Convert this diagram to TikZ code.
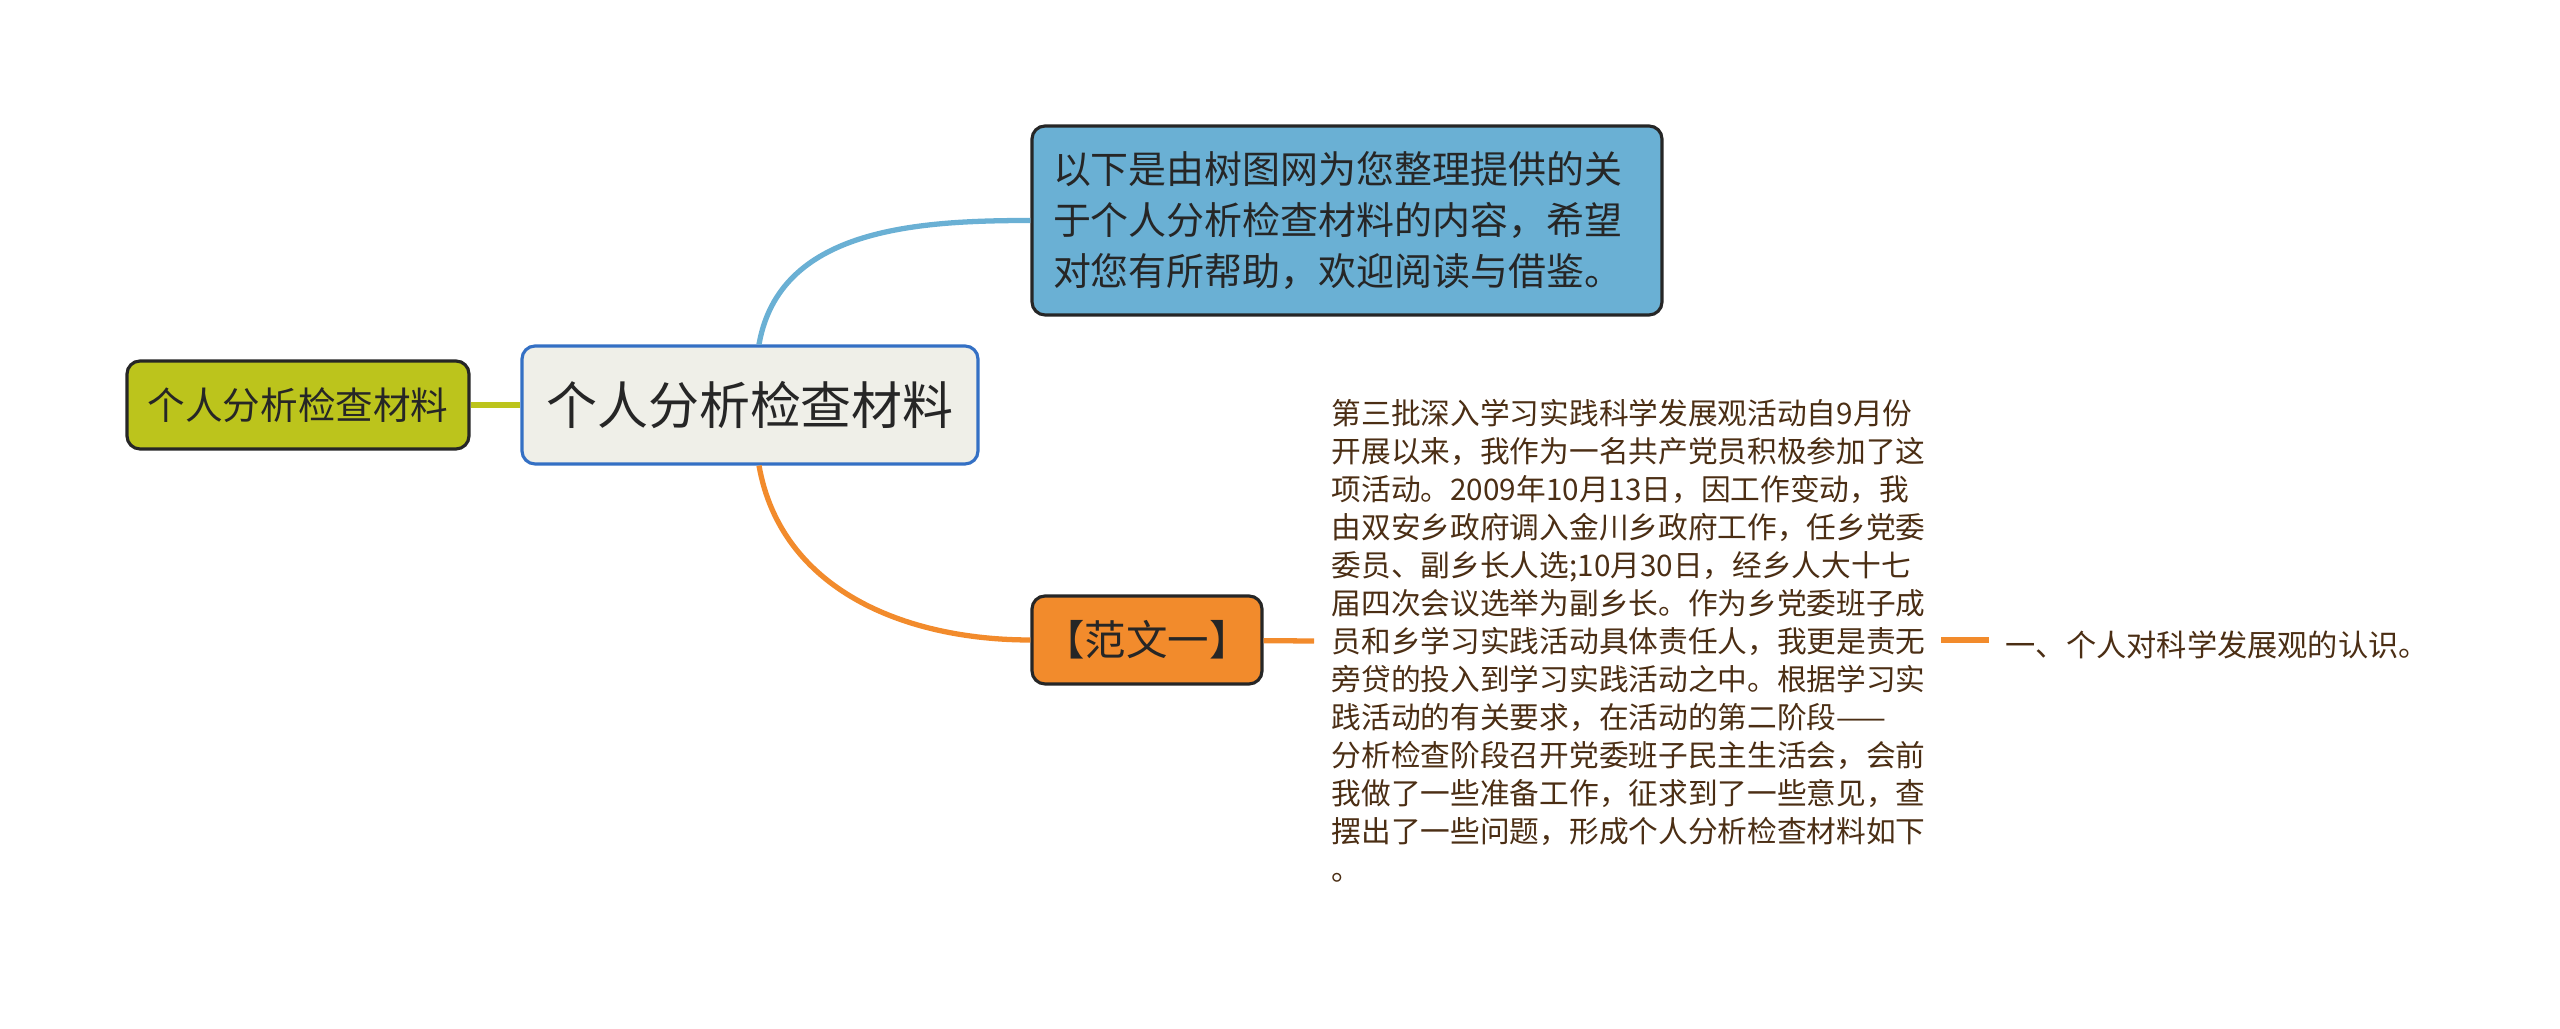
\documentclass[tikz,border=0pt]{standalone}
\usepackage{fontspec}
\newfontfamily\cjk{Noto Sans CJK SC}
\usepackage{tikz}
\usetikzlibrary{positioning}

\definecolor{rootfill}{HTML}{EFEFE8}
\definecolor{rootline}{HTML}{3470C4}
\definecolor{olive}{HTML}{BCC41C}
\definecolor{skyblue}{HTML}{6AB0D4}
\definecolor{tangerine}{HTML}{F28B2C}
\definecolor{inkbrown}{HTML}{4B2E14}
\definecolor{inkgray}{HTML}{262626}

\begin{document}
\begin{tikzpicture}
		[box/.style={rectangle,rounded corners=1.3mm,draw=black!85,line width=0.9pt,inner sep=0mm,text=inkgray,align=left},
		plain/.style={inner sep=0mm,text=inkbrown,align=left},
		link/.style={line width=1.5pt}]

	\useasboundingbox (0,0) rectangle (25.60,-10.29);

	% central topic
	\node[box,fill=rootfill,draw=rootline,minimum width=4.56cm,minimum height=1.18cm,
		font=\cjk\fontsize{14.5}{18}\selectfont] (root) at (7.50,-4.05) {个人分析检查材料};

	\node[box,fill=olive,minimum width=3.42cm,minimum height=0.88cm,
		font=\cjk\fontsize{10.7}{14}\selectfont] (left) at (2.98,-4.05) {个人分析检查材料};
	\draw[link,olive,line width=1.9pt] (left) -- (root);

	% upper branch
	\node[box,fill=skyblue,minimum height=1.89cm,inner xsep=0.21cm,text width=5.88cm,
		font=\cjk\fontsize{10.8}{14.5}\selectfont] (intro) at (13.47,-2.205)
		{以下是由树图网为您整理提供的关\\于个人分析检查材料的内容，希望\\对您有所帮助，欢迎阅读与借鉴。};
	\draw[link,skyblue] ([xshift=0.09cm]root.north) to[out=80,in=180] (intro.west);

	% lower branch
	\node[box,fill=tangerine,minimum width=2.30cm,minimum height=0.88cm,
		font=\cjk\fontsize{11.8}{14}\selectfont] (fanwen) at (11.47,-6.40) {【范文一】};
	\draw[link,tangerine] ([xshift=0.09cm]root.south) to[out=-80,in=180] (fanwen.west);

	\node[plain,anchor=west,inner xsep=0.17cm,text width=5.92cm,
		font=\cjk\fontsize{8.45}{10.8}\selectfont] (body) at (13.14,-6.41)
		{第三批深入学习实践科学发展观活动自9月份\\
		开展以来，我作为一名共产党员积极参加了这\\
		项活动。2009年10月13日，因工作变动，我\\
		由双安乡政府调入金川乡政府工作，任乡党委\\
		委员、副乡长人选;10月30日，经乡人大十七\\
		届四次会议选举为副乡长。作为乡党委班子成\\
		员和乡学习实践活动具体责任人，我更是责无\\
		旁贷的投入到学习实践活动之中。根据学习实\\
		践活动的有关要求，在活动的第二阶段——\\
		分析检查阶段召开党委班子民主生活会，会前\\
		我做了一些准备工作，征求到了一些意见，查\\
		摆出了一些问题，形成个人分析检查材料如下\\
		。};
	\draw[link,tangerine] (fanwen) -- (body.west);

	\node[plain,anchor=west,inner xsep=0.16cm,
		font=\cjk\fontsize{8.6}{10}\selectfont] (first) at (19.89,-6.45) {一、个人对科学发展观的认识。};
	\draw[link,tangerine] (body.east |- fanwen.east) -- (first.west |- fanwen.east);
\end{tikzpicture}
\end{document}
